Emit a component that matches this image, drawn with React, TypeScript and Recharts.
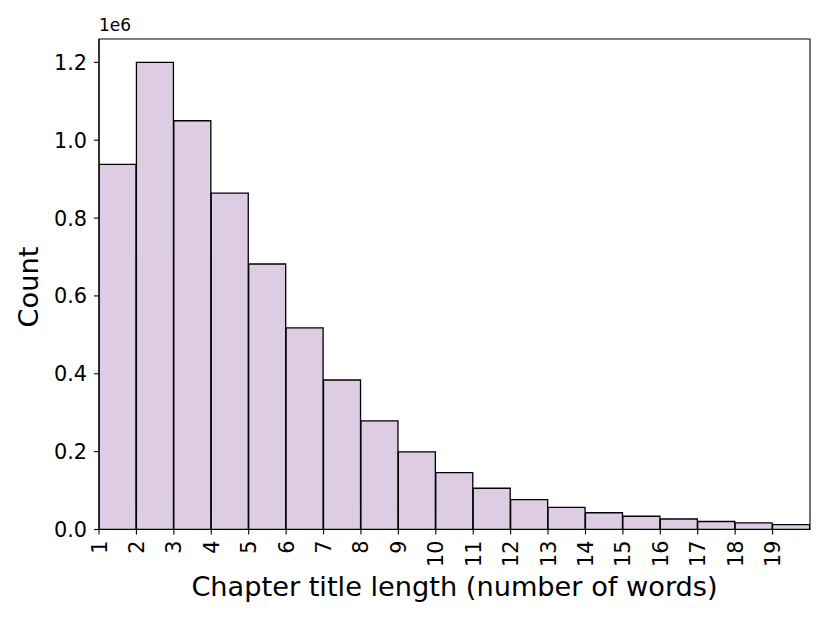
import React from 'react';
import { BarChart, Bar, XAxis, YAxis, ReferenceArea } from 'recharts';

const binStarts = [1, 2, 3, 4, 5, 6, 7, 8, 9, 10, 11, 12, 13, 14, 15, 16, 17, 18, 19];
const counts = [938000, 1200000, 1050000, 864000, 682000, 518000, 384000, 279000, 199500, 146000, 106000, 77000, 57000, 43000, 34000, 27000, 20500, 17000, 12500];
const xTicks = [1, 2, 3, 4, 5, 6, 7, 8, 9, 10, 11, 12, 13, 14, 15, 16, 17, 18, 19];
const yTicks = [0, 200000, 400000, 600000, 800000, 1000000, 1200000];
const xDomain = [1, 20];
const yDomain = [0, 1260000];

const data = binStarts.map((b, i) => ({ x: b + 0.5, count: counts[i] }));

const FONT = '"DejaVu Sans", sans-serif';

const XTick = (props: any) => {
  const { x, y, payload } = props;
  return (
    <text
      x={0}
      y={0}
      transform={`translate(${x},${y + 4}) rotate(-90)`}
      textAnchor="end"
      dy="0.36em"
      fontSize={20.8}
      fontFamily={FONT}
      fill="#000"
    >
      {payload.value}
    </text>
  );
};

const YTick = (props: any) => {
  const { x, y, payload } = props;
  return (
    <text x={x - 5} y={y} textAnchor="end" dy="0.36em" fontSize={20.8} fontFamily={FONT} fill="#000">
      {(payload.value / 1e6).toFixed(1)}
    </text>
  );
};

export default function App() {
  return (
    <div style={{ position: 'relative', width: 822, height: 615, fontFamily: FONT }}>
      <BarChart
        width={822}
        height={615}
        data={data}
        margin={{ top: 31, right: 20, left: 31, bottom: 33.5 }}
        barCategoryGap={0}
        barGap={0}
      >
        <XAxis
          dataKey="x"
          type="number"
          domain={xDomain}
          ticks={xTicks}
          interval={0}
          allowDataOverflow
          height={60}
          tick={<XTick />}
          tickLine={{ stroke: '#000', strokeWidth: 1.1 }}
          tickSize={5}
          axisLine={{ stroke: '#000', strokeWidth: 1.1 }}
        />
        <YAxis
          type="number"
          domain={yDomain}
          ticks={yTicks}
          interval={0}
          allowDataOverflow
          width={60}
          tick={<YTick />}
          tickLine={{ stroke: '#000', strokeWidth: 1.1 }}
          tickSize={5}
          axisLine={{ stroke: '#000', strokeWidth: 1.1 }}
        />
        <Bar
          dataKey="count"
          fill="#DDCCE3"
          stroke="#000"
          strokeWidth={1.3}
          isAnimationActive={false}
        />
        <ReferenceArea
          x1={xDomain[0]}
          x2={xDomain[1]}
          y1={yDomain[0]}
          y2={yDomain[1]}
          fill="none"
          fillOpacity={0}
          stroke="#000"
          strokeWidth={1.1}
          strokeOpacity={1}
          ifOverflow="visible"
        />
      </BarChart>
      <div style={{ position: 'absolute', left: 91, top: 9, fontSize: 17, lineHeight: '17px', color: '#000' }}>1e6</div>
      <div
        style={{
          position: 'absolute',
          left: 20.5,
          top: 278.5,
          fontSize: 27.2,
          lineHeight: '28px',
          transform: 'translate(-50%, -50%) rotate(-90deg)',
          whiteSpace: 'nowrap',
          color: '#000',
        }}
      >
        Count
      </div>
      <div
        style={{
          position: 'absolute',
          left: 446.5,
          top: 579,
          fontSize: 27.2,
          lineHeight: '28px',
          transform: 'translate(-50%, -50%)',
          whiteSpace: 'nowrap',
          color: '#000',
        }}
      >
        Chapter title length (number of words)
      </div>
    </div>
  );
}
